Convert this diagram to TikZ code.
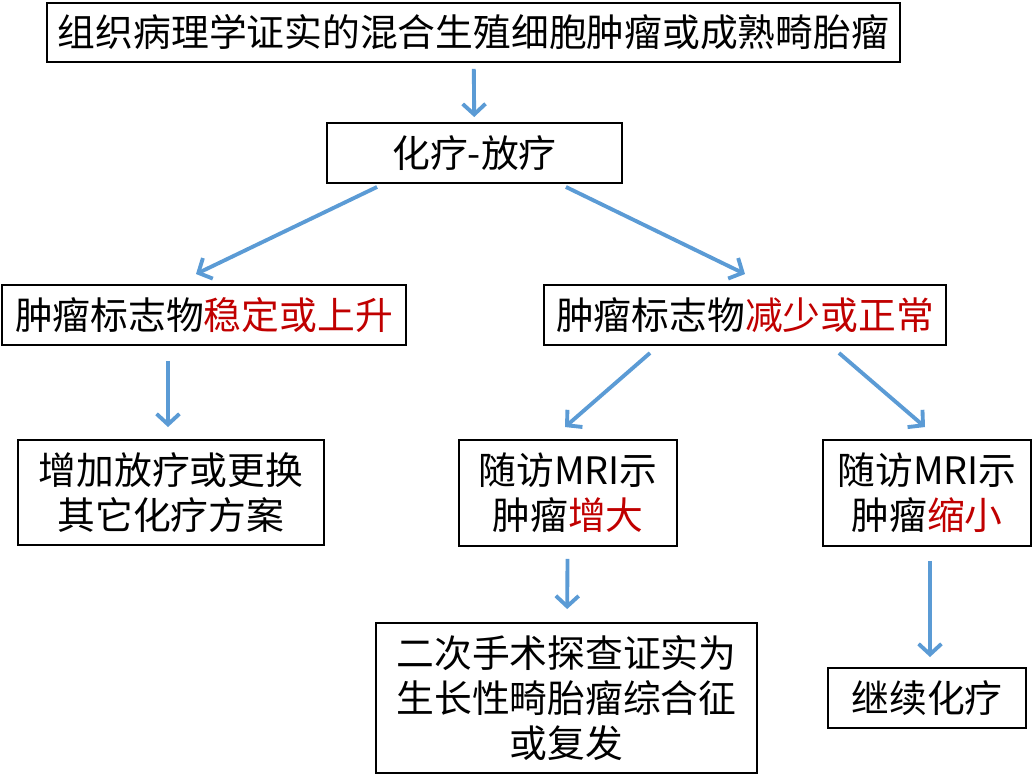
\documentclass[tikz,border=0pt]{standalone}
\usepackage{fontspec}
\setmainfont{Noto Sans CJK SC}
\usetikzlibrary{arrows.meta,positioning}
\definecolor{arrowblue}{RGB}{91,155,213}
\definecolor{darkred}{RGB}{192,0,0}
\tikzset{
  box/.style={rectangle,draw,line width=1.1pt,align=center,inner sep=0pt,font=\fontsize{21.5}{25.5}\selectfont},
  arr/.style={-{Straight Barb[length=6pt,width=13pt]},line width=2.2pt,color=arrowblue}
}
\newcommand{\hl}[1]{\textcolor{darkred}{#1}}
\begin{document}
\begin{tikzpicture}
    \useasboundingbox (0,0) rectangle (20.66,-15.52);
    \node[box,minimum width=17.06cm,minimum height=1.18cm] (path) at (9.47,-0.65) {组织病理学证实的混合生殖细胞肿瘤或成熟畸胎瘤};
    \node[box,minimum width=5.9cm,minimum height=1.2cm] (chemo) at (9.49,-3.06) {化疗-放疗};
    \node[box,minimum width=8.08cm,minimum height=1.2cm] (rise) at (4.08,-6.3) {肿瘤标志物\hl{稳定或上升}};
    \node[box,minimum width=8.04cm,minimum height=1.2cm] (fall) at (14.9,-6.3) {肿瘤标志物\hl{减少或正常}};
    \node[box,minimum width=6.12cm,minimum height=2.1cm] (change) at (3.42,-9.85) {增加放疗或更换\\其它化疗方案};
    \node[box,minimum width=4.36cm,minimum height=2.12cm] (grow) at (11.36,-9.86) {随访MRI示\\肿瘤\hl{增大}};
    \node[box,minimum width=4.16cm,minimum height=2.12cm] (shrink) at (18.54,-9.86) {随访MRI示\\肿瘤\hl{缩小}};
    \node[box,minimum width=7.62cm,minimum height=3.0cm] (surgery) at (11.33,-13.96) {二次手术探查证实为\\生长性畸胎瘤综合征\\或复发};
    \node[box,minimum width=3.96cm,minimum height=1.2cm] (cont) at (18.54,-13.96) {继续化疗};

    \draw[arr,shorten <=0.12cm,shorten >=0.1cm] (path) -- (chemo) ;
    \draw[arr] ([xshift=1.02cm,yshift=-0.06cm]chemo.south west) -- ([xshift=-0.16cm,yshift=0.2cm]rise.north) ;
    \draw[arr] ([xshift=-1.14cm,yshift=-0.06cm]chemo.south east) -- ([yshift=0.2cm]fall.north) ;
    \draw[arr,shorten <=0.3cm,shorten >=0.24cm] ([xshift=-0.72cm]rise.south) -- ([xshift=-0.06cm]change.north) ;
    \draw[arr] ([xshift=2.14cm,yshift=-0.14cm]fall.south west) -- ([xshift=-0.06cm,yshift=0.24cm]grow.north) ;
    \draw[arr] ([xshift=-2.16cm,yshift=-0.14cm]fall.south east) -- ([xshift=-0.04cm,yshift=0.24cm]shrink.north) ;
    \draw[arr,shorten <=0.24cm,shorten >=0.26cm] (grow) -- (surgery) ;
    \draw[arr,shorten <=0.28cm,shorten >=0.2cm] ([xshift=0.06cm]shrink.south) -- ([xshift=0.06cm]cont.north) ;
\end{tikzpicture}
\end{document}
